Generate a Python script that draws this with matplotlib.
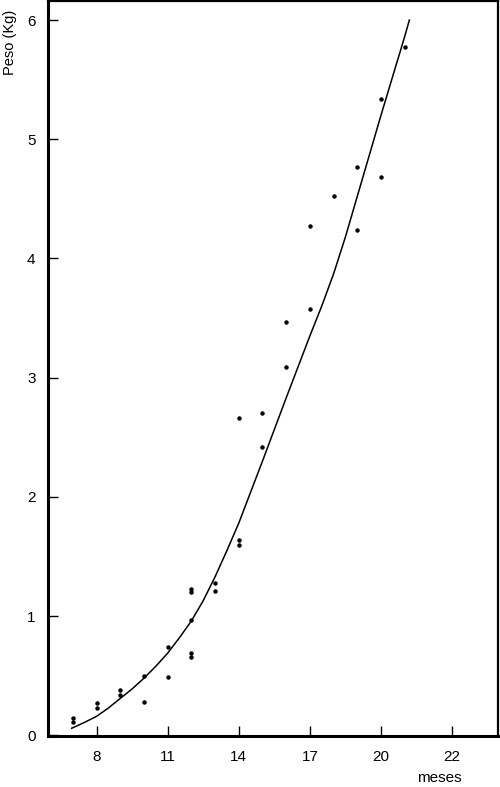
import matplotlib
matplotlib.use("Agg")
import matplotlib.pyplot as plt

plt.rcParams['font.family'] = ['Liberation Sans', 'DejaVu Sans']

# observed weights
meses = [7, 7, 8, 8, 9, 9, 10, 10, 11, 11, 12, 12, 12, 12, 12, 13, 13,
         14, 14, 14, 15, 15, 16, 16, 17, 17, 18, 19, 19, 20, 20, 21]
peso = [0.15, 0.11, 0.27, 0.23, 0.38, 0.34, 0.50, 0.28, 0.74, 0.49,
        1.23, 1.20, 0.97, 0.69, 0.66, 1.28, 1.21, 1.64, 1.60, 2.66,
        2.70, 2.42, 3.47, 3.09, 4.27, 3.58, 4.52, 4.77, 4.24, 5.34,
        4.68, 5.77]

# fitted curve
curva_x = [6.95, 7.5, 8, 8.5, 9, 9.5, 10, 10.5, 11, 11.5, 12, 12.5, 13,
           13.5, 14, 15, 16, 17, 17.5, 18, 18.5, 19, 20, 21, 21.2]
curva_y = [0.06, 0.11, 0.16, 0.23, 0.31, 0.39, 0.48, 0.58, 0.69, 0.82,
           0.96, 1.13, 1.33, 1.55, 1.78, 2.30, 2.83, 3.35, 3.60, 3.87,
           4.18, 4.52, 5.20, 5.86, 6.0]

xticks = [8, 11, 14, 17, 20, 23]
xtick_labels = ["8", "11", "14", "17", "20", "22"]
yticks = [0, 1, 2, 3, 4, 5, 6]

fig = plt.figure(figsize=(5.0, 7.87), dpi=100)
ax = fig.add_axes([0.096, 0.0648, 0.9, 0.934])

ax.plot(curva_x, curva_y, color='black', linewidth=1.1)
ax.plot(meses, peso, 'o', color='black', markersize=2.2)

ax.set_xlim(5.95, 24.94)
ax.set_ylim(-0.005, 6.16)

ax.set_xticks(xticks)
ax.set_xticklabels(xtick_labels)
ax.set_yticks(yticks)

ax.tick_params(axis='both', direction='in', length=7, width=1,
               labelsize=11, colors='black')
ax.tick_params(axis='x', pad=10)
ax.tick_params(axis='y', pad=9)

for side in ['left', 'bottom']:
    ax.spines[side].set_linewidth(2.2)
for side in ['top', 'right']:
    ax.spines[side].set_linewidth(1.6)

fig.text(0.02, 1 - 42 / 787, "Peso (Kg)", rotation=90, ha='center',
         va='center', fontsize=10.5)
fig.text(0.878, 1 - 778 / 787, "meses", ha='center', va='center',
         fontsize=11)

fig.savefig("out.png", dpi=100)
